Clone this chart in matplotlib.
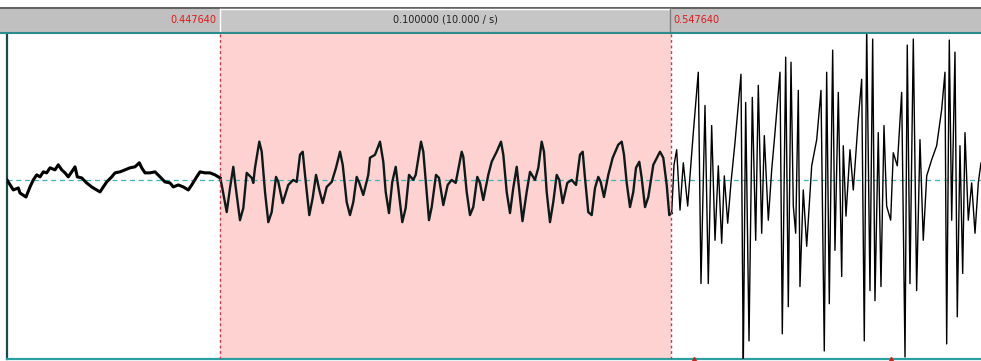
import matplotlib
matplotlib.use("Agg")
import matplotlib.pyplot as plt
from matplotlib.patches import Rectangle
from matplotlib.lines import Line2D
import numpy as np

# Selection and visible window (seconds)
sel_start = 0.447640
sel_end = 0.547640
view_start = 0.40041
view_end = 0.61638
amp_min, amp_max = -1.78, 1.46

# Waveform outline: time (ms) and amplitude
time_ms = [
    400.41, 401.81, 402.92, 403.29, 404.62, 405.51, 406.24, 407.00, 407.73, 408.46,
    409.21, 409.95, 411.05, 411.79, 412.54, 413.27, 414.00, 414.76, 415.49, 416.00,
    416.97, 418.08, 419.19, 420.30, 421.03, 421.76, 422.52, 423.63, 424.36, 425.47,
    426.58, 427.68, 428.79, 429.75, 430.28, 431.01, 432.12, 433.23, 434.34, 435.44,
    436.55, 437.29, 438.39, 439.50, 440.61, 441.37, 442.47, 443.21, 444.31, 445.42,
    446.53, 447.64,
    448.02, 449.13, 449.86, 450.59, 450.97, 452.07, 452.81, 453.56, 454.67, 455.02,
    455.40, 456.35, 456.89, 457.62, 458.35, 459.10, 460.06, 460.57, 461.54, 462.78,
    463.89, 464.65, 465.38, 465.98, 466.49, 467.44, 468.19, 468.93, 469.66, 470.41,
    471.30, 472.41, 473.36, 474.25, 474.85, 475.73, 476.46, 477.20, 477.95, 478.53,
    479.41, 480.52, 480.90, 482.01, 483.12, 483.85, 484.38, 485.11, 485.84, 486.60,
    487.17, 488.06, 488.81, 489.55, 490.50, 491.03, 492.21, 492.72, 493.47, 493.98,
    494.58, 495.53, 496.20, 497.15, 498.13, 499.01, 499.90, 501.23, 501.59, 502.34,
    503.07, 503.80, 504.69, 505.29, 506.02, 507.13, 507.88, 508.99, 509.95, 510.46,
    511.21, 511.94, 512.67, 513.43, 513.94, 514.71, 515.64, 516.38, 517.48, 518.22,
    518.97, 519.48, 520.08, 520.81, 521.54, 522.30, 522.87, 523.63, 524.65, 525.62,
    526.58, 527.46, 528.06, 528.57, 529.30, 530.06, 530.79, 531.52, 532.05, 532.78,
    533.74, 534.71, 535.95, 536.71, 537.22, 537.82, 538.55, 539.28, 539.88, 540.61,
    541.14, 541.88, 542.61, 543.72, 545.20, 545.93, 546.69, 547.26, 547.79,
    548.31, 548.90, 549.64, 550.37, 551.34, 552.59, 553.69, 554.29, 555.18, 555.91,
    556.66, 557.40, 558.13, 558.88, 559.46, 560.21, 560.94, 561.83, 563.16, 563.67,
    564.20, 564.94, 565.67, 566.42, 567.00, 567.75, 568.33, 569.22, 569.97, 570.70,
    571.81, 572.32, 573.07, 573.65, 574.25, 574.76, 575.29, 575.87, 576.24, 576.97,
    577.73, 578.84, 579.95, 580.90, 581.63, 582.16, 582.74, 583.49, 584.00, 584.74,
    585.49, 585.84, 586.44, 587.33, 588.06, 589.17, 589.92, 590.50, 591.03, 591.76,
    592.36, 592.87, 593.60, 594.20, 594.87, 595.46, 596.35, 596.93, 597.82, 598.79,
    599.53, 600.03, 600.63, 601.37, 602.11, 602.85, 603.58, 604.34, 605.44, 606.55,
    607.66, 608.39, 608.77, 609.35, 609.88, 610.61, 611.12, 611.72, 612.32, 612.83,
    613.56, 614.31, 615.05, 615.78, 616.38, 617.30,
]
amplitude = [
    0.00, -0.10, -0.08, -0.13, -0.17, -0.07, 0.00, 0.05, 0.03, 0.08,
    0.07, 0.12, 0.10, 0.15, 0.10, 0.07, 0.03, 0.08, 0.13, 0.03,
    0.02, -0.03, -0.07, -0.10, -0.12, -0.07, -0.02, 0.03, 0.07, 0.08,
    0.10, 0.12, 0.13, 0.17, 0.12, 0.07, 0.07, 0.08, 0.03, -0.02,
    -0.03, -0.07, -0.05, -0.07, -0.10, -0.05, 0.03, 0.08, 0.07, 0.07,
    0.05, 0.02,
    -0.05, -0.32, -0.08, 0.13, -0.02, -0.40, -0.28, 0.07, 0.02, -0.03,
    0.12, 0.38, 0.28, -0.12, -0.42, -0.32, 0.03, -0.02, -0.23, -0.05,
    0.00, -0.02, 0.25, 0.28, 0.05, -0.35, -0.18, 0.05, -0.10, -0.23,
    -0.07, -0.02, 0.12, 0.28, 0.15, -0.22, -0.35, -0.22, 0.03, -0.03,
    -0.15, 0.05, 0.22, 0.25, 0.38, 0.18, -0.12, -0.33, -0.02, 0.13,
    -0.08, -0.42, -0.28, 0.05, 0.00, 0.05, 0.38, 0.28, -0.12, -0.40,
    -0.27, 0.05, 0.02, -0.25, -0.05, 0.00, -0.03, 0.28, 0.23, -0.12,
    -0.35, -0.27, 0.03, -0.03, -0.20, 0.05, 0.18, 0.28, 0.38, 0.25,
    -0.12, -0.33, -0.08, 0.13, -0.08, -0.41, -0.12, 0.08, 0.00, 0.12,
    0.38, 0.28, -0.12, -0.42, -0.22, 0.05, 0.00, -0.23, -0.03, 0.00,
    -0.05, 0.25, 0.28, 0.02, -0.32, -0.35, -0.08, 0.03, -0.02, -0.17,
    0.05, 0.22, 0.35, 0.38, 0.25, -0.03, -0.27, -0.12, 0.12, 0.18,
    0.02, -0.27, -0.17, 0.15, 0.28, 0.22, -0.05, -0.35, -0.33,
    0.15, 0.30, -0.30, 0.17, -0.26, 0.47, 1.07, -1.03, 0.74, -1.03,
    0.54, -0.60, 0.14, -0.63, 0.04, -0.43, -0.03, 0.37, 1.05, -1.85,
    0.77, -1.60, 0.82, -0.60, 0.94, -0.53, 0.44, -0.40, 0.10, 0.47,
    1.07, -1.53, 1.22, -1.26, 1.17, -0.26, -0.53, 0.89, -1.06, -0.10,
    -0.66, 0.14, 0.40, 0.89, -1.70, 1.07, -1.23, 1.29, -0.70, 0.87,
    -0.96, 0.34, -0.36, 0.30, -0.10, 0.60, 1.00, -1.60, 1.52, -1.10,
    1.40, -1.20, 0.47, -1.06, 0.54, -0.26, -0.40, 0.27, 0.14, 0.87,
    -1.76, 1.34, -1.03, 1.40, -1.10, 0.40, -0.60, 0.04, 0.20, 0.34,
    0.70, 1.07, -1.63, 1.39, -0.40, 1.27, -1.36, 0.34, -0.93, 0.47,
    -0.40, -0.03, -0.53, -0.03, 0.17, -0.20,
]
pulse_ms = [552.74, 596.42]

W, H = 981, 361
fig = plt.figure(figsize=(W / 100, H / 100), dpi=100)
fig.patch.set_facecolor("white")


def fx(px):
    return px / W


def fy(py):
    return 1 - py / H


# Top duration bar
fig.add_artist(Rectangle((0, fy(32)), 1, (32 - 7) / H, transform=fig.transFigure,
                         facecolor="#c0c0c0", edgecolor="none"))
fig.add_artist(Line2D([0, 1], [fy(7.5), fy(7.5)], transform=fig.transFigure,
                      color="#505050", lw=1.2))
# Raised segment covering the selection
fig.add_artist(Rectangle((fx(220), fy(31)), (670 - 220) / W, (31 - 9) / H,
                         transform=fig.transFigure, facecolor="#c6c6c6",
                         edgecolor="none"))
fig.add_artist(Line2D([fx(220), fx(670)], [fy(9), fy(9)], transform=fig.transFigure,
                      color="white", lw=1))
fig.add_artist(Line2D([fx(220), fx(220)], [fy(9), fy(31)], transform=fig.transFigure,
                      color="white", lw=1))
fig.add_artist(Line2D([fx(670), fx(670)], [fy(9), fy(31)], transform=fig.transFigure,
                      color="#808080", lw=1))
fig.add_artist(Line2D([0, 1], [fy(32.5), fy(32.5)], transform=fig.transFigure,
                      color="#2a8c8c", lw=1.5))

dur = sel_end - sel_start
fig.text(fx(216), fy(20), f"{sel_start:.6f}", color="#e01818", fontsize=7,
         ha="right", va="center", family="DejaVu Sans")
fig.text(fx(445), fy(20), f"{dur:.6f} ({1 / dur:.3f} / s)", color="#202020",
         fontsize=7, ha="center", va="center", family="DejaVu Sans")
fig.text(fx(673), fy(20), f"{sel_end:.6f}", color="#e01818", fontsize=7,
         ha="left", va="center", family="DejaVu Sans")

# Waveform panel
ax = fig.add_axes([fx(7), fy(359), fx(981) - fx(7), (359 - 33) / H])
ax.set_xlim(view_start, view_end)
ax.set_ylim(amp_min, amp_max)
ax.set_facecolor("white")
ax.axvspan(sel_start, sel_end, color="#ffd2d2", lw=0, zorder=0)

t = np.array(time_ms) / 1000.0
a = np.array(amplitude)
before = t <= sel_start
ax.plot(t[before], a[before], color="black", lw=2.2, zorder=3)
inner = (t >= sel_start) & (t <= sel_end + 0.0002)
ax.plot(t[inner], a[inner], color="#0c1a1a", lw=1.7, zorder=3)
outer = t >= sel_end
ax.plot(t[outer], a[outer], color="black", lw=1.0, zorder=3)

ax.axhline(0, color="#3fb4b4", lw=0.9, ls=(0, (4, 3)), zorder=2)
for s in (sel_start, sel_end):
    ax.axvline(s, color="#c03a4a", lw=1.0, ls=(0, (2, 2)), zorder=4)

ax.plot(np.array(pulse_ms) / 1000.0, [amp_min] * len(pulse_ms), ls="none",
        marker="^", ms=3, color="#d02020", clip_on=False, zorder=5)

ax.set_xticks([])
ax.set_yticks([])
for side in ("top", "right"):
    ax.spines[side].set_visible(False)
ax.spines["left"].set_color("#1a4a4a")
ax.spines["left"].set_linewidth(1.6)
ax.spines["bottom"].set_color("#2aa0a0")
ax.spines["bottom"].set_linewidth(1.6)

fig.savefig("out.png", dpi=100)
